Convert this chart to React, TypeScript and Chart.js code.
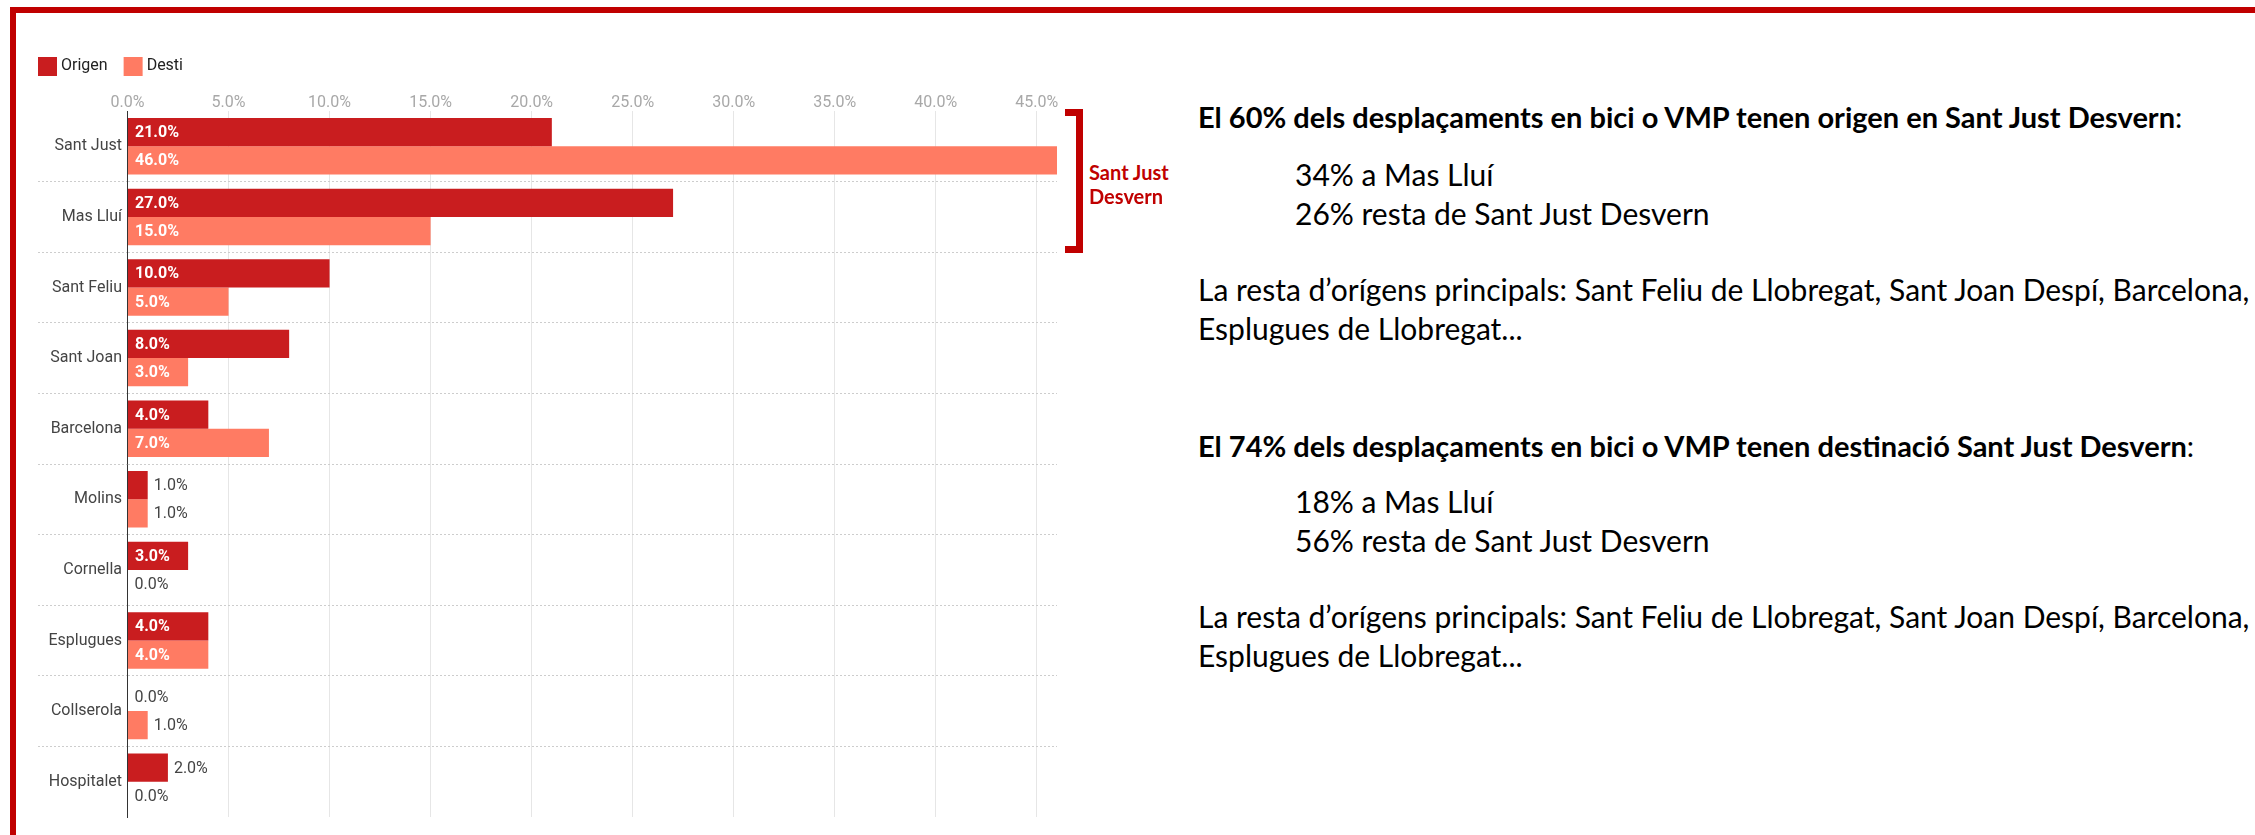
import React, { useEffect, useRef } from 'react';
import { Chart, registerables } from 'chart.js';

Chart.register(...registerables);

// ---- data ----
const categories = ['Sant Just', 'Mas Lluí', 'Sant Feliu', 'Sant Joan', 'Barcelona', 'Molins', 'Cornella', 'Esplugues', 'Collserola', 'Hospitalet'];
const seriesNames = ['Origen', 'Desti'];
const origenValues = [21, 27, 10, 8, 4, 1, 3, 4, 0, 2];
const destiValues = [46, 15, 5, 3, 7, 1, 0, 4, 1, 0];
const xTickValues = [0, 5, 10, 15, 20, 25, 30, 35, 40, 45];
const xMax = 46;

const ORIGEN_COLOR = '#C91D1F';
const DESTI_COLOR = '#FF7B63';
const FRAME_RED = '#C00000';

const fmt = (v: number) => v.toFixed(1) + '%';

const barLabelPlugin = {
  id: 'barLabels',
  afterDatasetsDraw(chart: any) {
    const ctx = chart.ctx;
    chart.data.datasets.forEach((ds: any, di: number) => {
      const meta = chart.getDatasetMeta(di);
      meta.data.forEach((el: any, i: number) => {
        const v = ds.data[i] as number;
        const { x, y, base } = el.getProps(['x', 'y', 'base'], true);
        const text = fmt(v);
        ctx.save();
        ctx.textAlign = 'left';
        ctx.textBaseline = 'middle';
        ctx.font = 'bold 16px Roboto';
        const w = ctx.measureText(text).width;
        const barW = x - base;
        if (barW >= w + 16) {
          ctx.fillStyle = '#ffffff';
          ctx.fillText(text, base + 7, y + 1);
        } else {
          ctx.font = '16px Roboto';
          ctx.fillStyle = '#444444';
          ctx.fillText(text, Math.max(x + 6, base + 7), y + 1);
        }
        ctx.restore();
      });
    });
  },
};

const legendPlugin = {
  id: 'topLegend',
  afterDraw(chart: any) {
    const ctx = chart.ctx;
    let x = 38;
    const y = 57;
    ctx.save();
    ctx.font = '16px Roboto';
    ctx.textBaseline = 'middle';
    ctx.textAlign = 'left';
    chart.data.datasets.forEach((ds: any) => {
      ctx.fillStyle = ds.backgroundColor;
      ctx.fillRect(x, y, 19, 19);
      ctx.fillStyle = '#222222';
      ctx.fillText(ds.label, x + 23, y + 9);
      x += 23 + ctx.measureText(ds.label).width + 16;
    });
    ctx.restore();
  },
};

const sepColor = (c: any) => (c.index === undefined || c.index === 0 ? 'rgba(0,0,0,0)' : '#cdcdcd');

function BarChart() {
  const ref = useRef<HTMLCanvasElement | null>(null);
  useEffect(() => {
    if (!ref.current) return;
    const chart = new Chart(ref.current, {
      type: 'bar',
      data: {
        labels: categories,
        datasets: [
          { label: seriesNames[0], data: origenValues, backgroundColor: ORIGEN_COLOR, categoryPercentage: 0.8, barPercentage: 1.0 },
          { label: seriesNames[1], data: destiValues, backgroundColor: DESTI_COLOR, categoryPercentage: 0.8, barPercentage: 1.0 },
        ],
      },
      options: {
        indexAxis: 'y',
        animation: false,
        responsive: true,
        maintainAspectRatio: false,
        layout: { padding: { left: 0, right: 13, top: 0, bottom: 18 } },
        plugins: { legend: { display: false }, tooltip: { enabled: false } },
        scales: {
          x: {
            position: 'top',
            min: 0,
            max: xMax,
            afterBuildTicks: (s: any) => {
              s.ticks = xTickValues.map((v) => ({ value: v }));
            },
            afterFit: (s: any) => {
              s.height = 111;
            },
            ticks: {
              callback: (v: any) => fmt(Number(v)),
              color: '#a8a8a8',
              font: { family: 'Roboto', size: 16 },
              padding: -2,
              maxRotation: 0,
              autoSkip: false,
            },
            grid: { color: '#e6e6e6', lineWidth: 1, drawTicks: false },
            border: { display: false },
          },
          y: {
            afterFit: (s: any) => {
              s.width = 127.5;
            },
            ticks: { color: '#444444', font: { family: 'Roboto', size: 16 }, padding: -84, autoSkip: false },
            grid: {
              offset: true,
              tickLength: 89.5,
              color: sepColor,
              tickColor: sepColor,
              tickBorderDash: [2, 2],
            },
            border: { display: true, color: '#333333', width: 1, dash: [2, 2] },
          },
        },
      },
      plugins: [barLabelPlugin, legendPlugin],
    } as any);
    return () => chart.destroy();
  }, []);
  return <canvas ref={ref} />;
}

const BODY_FONT = 'Lato, "Open Sans", sans-serif';
const ASC = 0.987;

function Line(props: { left: number; baseline: number; size: number; bold?: boolean; color?: string; children: React.ReactNode }) {
  const { left, baseline, size, bold, color, children } = props;
  return (
    <div
      style={{
        position: 'absolute',
        left,
        top: baseline - ASC * size,
        fontFamily: BODY_FONT,
        fontSize: size,
        fontWeight: bold ? 700 : 400,
        lineHeight: 'normal',
        whiteSpace: 'nowrap',
        color: color || '#000',
      }}
    >
      {children}
    </div>
  );
}

export default function App() {
  const HEAD = 29;
  const BODY = 30;
  return (
    <div style={{ position: 'fixed', left: 0, top: 0, width: 2255, height: 835, overflow: 'hidden', background: '#fff' }}>
      <div style={{ position: 'absolute', left: 10, top: 7, width: 2400, height: 1000, border: `6px solid ${FRAME_RED}`, boxSizing: 'border-box' }} />
      <div style={{ position: 'absolute', left: 0, top: 0, width: 1070, height: 835 }}>
        <BarChart />
      </div>
      {/* bracket */}
      <div
        style={{
          position: 'absolute',
          left: 1065,
          top: 109,
          width: 18,
          height: 144,
          borderTop: `7px solid ${FRAME_RED}`,
          borderRight: `7px solid ${FRAME_RED}`,
          borderBottom: `7px solid ${FRAME_RED}`,
          boxSizing: 'border-box',
        }}
      />
      <Line left={1089} baseline={180} size={20} bold color={FRAME_RED}>Sant Just</Line>
      <Line left={1089} baseline={204} size={20} bold color={FRAME_RED}>Desvern</Line>

      <Line left={1198} baseline={128} size={HEAD} bold>
        El 60% dels desplaçaments en bici o VMP tenen origen en Sant Just Desvern<span style={{ fontWeight: 400 }}>:</span>
      </Line>
      <Line left={1295} baseline={186} size={BODY}>34% a Mas Lluí</Line>
      <Line left={1295} baseline={225} size={BODY}>26% resta de Sant Just Desvern</Line>
      <Line left={1198} baseline={301} size={BODY}>La resta d’orígens principals: Sant Feliu de Llobregat, Sant Joan Despí, Barcelona,</Line>
      <Line left={1198} baseline={340} size={BODY}>Esplugues de Llobregat...</Line>

      <Line left={1198} baseline={457} size={HEAD} bold>
        El 74% dels desplaçaments en bici o VMP tenen destinació Sant Just Desvern<span style={{ fontWeight: 400 }}>:</span>
      </Line>
      <Line left={1295} baseline={513} size={BODY}>18% a Mas Lluí</Line>
      <Line left={1295} baseline={552} size={BODY}>56% resta de Sant Just Desvern</Line>
      <Line left={1198} baseline={628} size={BODY}>La resta d’orígens principals: Sant Feliu de Llobregat, Sant Joan Despí, Barcelona,</Line>
      <Line left={1198} baseline={667} size={BODY}>Esplugues de Llobregat...</Line>
    </div>
  );
}
